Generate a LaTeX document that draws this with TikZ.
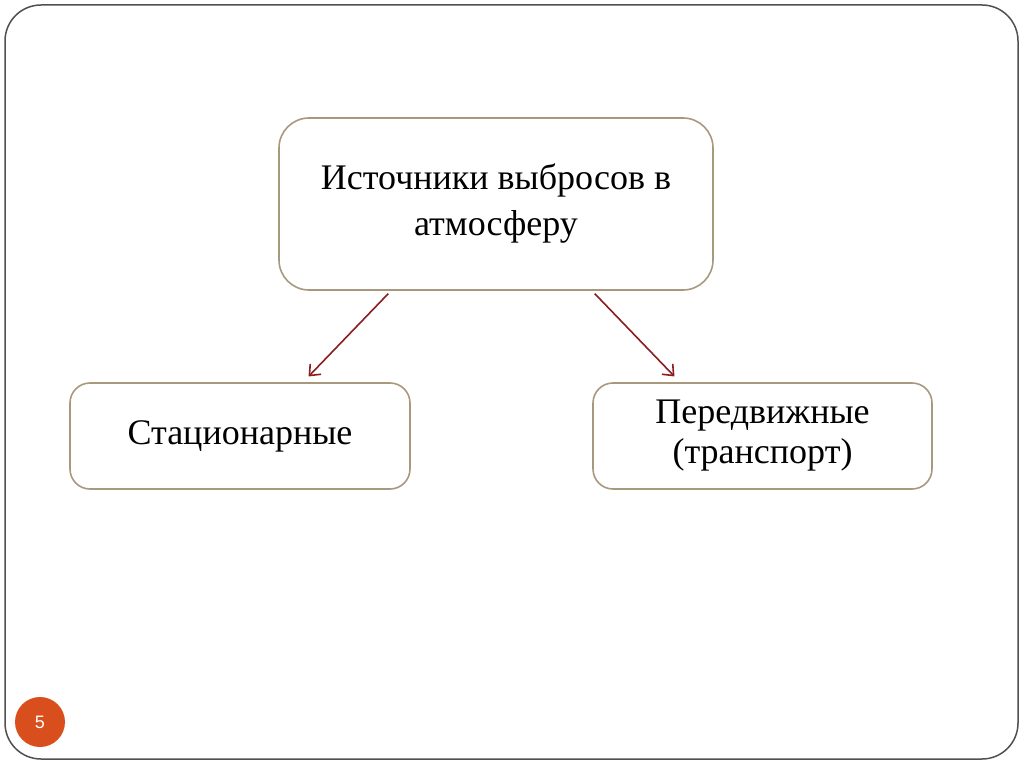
\documentclass[tikz,border=0pt]{standalone}
\usepackage{fontspec}
\setmainfont{Liberation Serif}
\setsansfont{Liberation Sans}
\usetikzlibrary{arrows.meta}
\definecolor{boxline}{HTML}{A8997E}
\definecolor{arrred}{HTML}{8B1E1E}
\definecolor{badge}{HTML}{D84E1C}
\definecolor{frameline}{HTML}{505050}
\tikzset{
  x=1pt, y=-1pt,
  box/.style={draw=boxline, line width=1.6pt, fill=white, align=center, inner sep=0pt,
    font=\fontsize{36}{46}\selectfont},
  arr/.style={draw=arrred, line width=1.6pt, -{Straight Barb[length=9pt,width=15pt,line width=1.6pt]}, shorten <=4pt, shorten >=8pt},
}
\begin{document}
\begin{tikzpicture}
\useasboundingbox (0,0) rectangle (1024,767);
\fill[white] (0,0) rectangle (1024,767);
\draw[frameline, line width=1.5pt, rounded corners=36pt] (5,5) rectangle (1018,759);
\node[box, rounded corners=30pt, minimum width=434pt, minimum height=172pt] (top) at (496,204) {\raisebox{-3pt}{Источники выбросов в}\\\raisebox{-3pt}{атмосферу}};
\node[box, rounded corners=20pt, minimum width=340pt, minimum height=106pt] (left) at (240,436) {\raisebox{-3pt}{Стационарные}};
\node[box, rounded corners=20pt, minimum width=339pt, minimum height=106pt, font=\fontsize{36}{40}\selectfont] (right) at (762.5,436) {Передвижные\\(транспорт)};
\draw[arr] ([xshift=-105pt]top.south) -- ([xshift=63pt]left.north);
\draw[arr] ([xshift=96pt]top.south) -- ([xshift=-82.5pt]right.north);
\node[circle, fill=badge, minimum size=50pt, inner sep=0pt, text=white, font=\sffamily\fontsize{18}{18}\selectfont] (num) at (40,722) {5};
\end{tikzpicture}
\end{document}
